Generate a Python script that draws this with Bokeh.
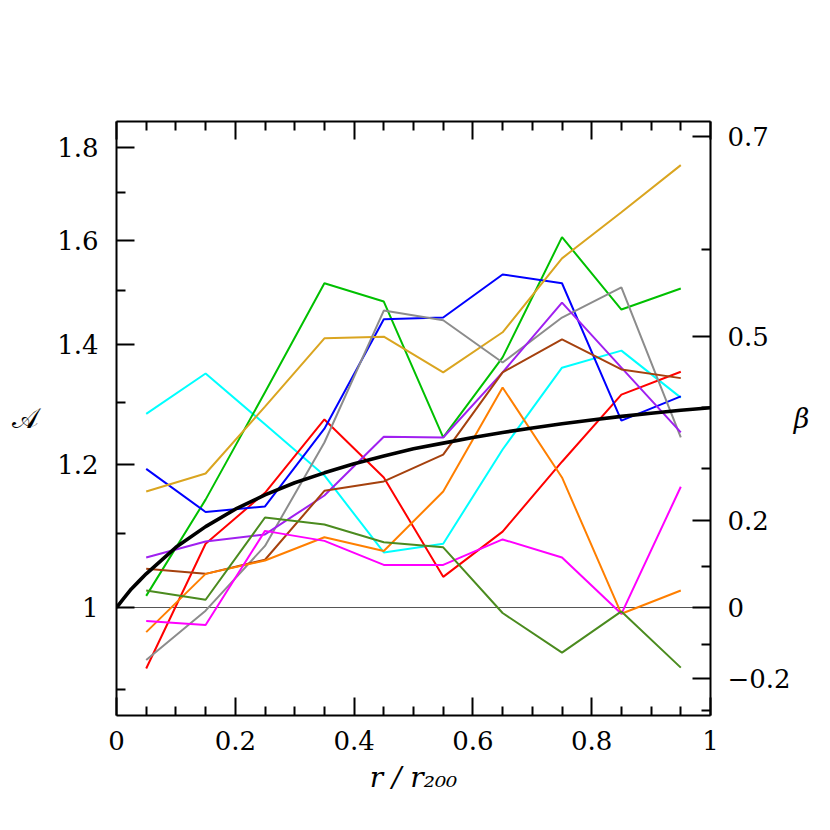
from bokeh.plotting import figure
from bokeh.models import (Range1d, LogAxis, LinearAxis, FixedTicker,
                          CustomJSTickFormatter, Span)
from bokeh.embed import file_html
from bokeh.resources import INLINE

# ---- data -------------------------------------------------------------
r_bins = [0.05, 0.15, 0.25, 0.35, 0.45, 0.55, 0.65, 0.75, 0.85, 0.95]

cyan_A    = [1.281, 1.349, 1.264, 1.184, 1.073, 1.085, 1.224, 1.359, 1.389, 1.308]
red_A     = [0.925, 1.085, 1.158, 1.272, 1.181, 1.040, 1.102, 1.205, 1.313, 1.352]
green_A   = [1.015, 1.148, 1.317, 1.514, 1.479, 1.243, 1.377, 1.606, 1.464, 1.504]
blue_A    = [1.194, 1.130, 1.138, 1.257, 1.446, 1.449, 1.531, 1.514, 1.270, 1.310]
gold_A    = [1.160, 1.187, 1.293, 1.411, 1.414, 1.351, 1.422, 1.563, 1.658, 1.761]
gray_A    = [0.935, 0.996, 1.082, 1.235, 1.462, 1.444, 1.368, 1.449, 1.506, 1.243]
purple_A  = [1.066, 1.088, 1.098, 1.154, 1.244, 1.243, 1.351, 1.477, 1.359, 1.251]
brown_A   = [1.051, 1.044, 1.063, 1.161, 1.175, 1.216, 1.351, 1.409, 1.356, 1.341]
orange_A  = [0.969, 1.044, 1.062, 1.094, 1.075, 1.160, 1.325, 1.181, 0.992, 1.022]
magenta_A = [0.983, 0.978, 1.103, 1.089, 1.056, 1.056, 1.091, 1.066, 0.992, 1.167]
olive_A   = [1.022, 1.010, 1.122, 1.112, 1.087, 1.080, 0.993, 0.944, 0.995, 0.926]

curve_r = [0.0, 0.0125, 0.025, 0.0375, 0.05, 0.10, 0.15, 0.20, 0.25, 0.30, 0.35,
           0.40, 0.45, 0.50, 0.55, 0.60, 0.65, 0.70, 0.75, 0.80, 0.85, 0.90,
           0.95, 1.00]
curve_A = [1.000, 1.012, 1.024, 1.034, 1.044, 1.080, 1.109, 1.134, 1.155, 1.173,
           1.188, 1.202, 1.214, 1.225, 1.234, 1.243, 1.251, 1.258, 1.265, 1.271,
           1.277, 1.282, 1.287, 1.291]

x_major = [0, 0.2, 0.4, 0.6, 0.8, 1.0]
x_minor = [0.05, 0.1, 0.15, 0.25, 0.3, 0.35, 0.45, 0.5, 0.55, 0.65, 0.7, 0.75,
           0.85, 0.9, 0.95]
A_major = [1.0, 1.2, 1.4, 1.6, 1.8]
A_minor = [0.9, 1.1, 1.3, 1.5, 1.7]
beta_major = [-0.2, 0.0, 0.2, 0.5, 0.7]
beta_minor = [-0.3, -0.1, 0.1, 0.3, 0.4, 0.6]

x_title = "r / r₂₀₀"
y_title = "𝒜"
y2_title = "β"

series = [
    (cyan_A, "#00ffff"), (red_A, "#ff0000"), (green_A, "#00c000"),
    (blue_A, "#0000ff"), (gold_A, "#daa520"), (gray_A, "#8c8c8c"),
    (purple_A, "#a020f0"), (brown_A, "#a5410e"), (orange_A, "#ff7f00"),
    (magenta_A, "#ff00ff"), (olive_A, "#4b8b1f"),
]

# ---- figure -----------------------------------------------------------
p = figure(width=822, height=822,
           x_range=Range1d(0, 1), y_range=Range1d(0.871, 1.862),
           y_axis_type="log", output_backend="svg", toolbar_location=None,
           min_border_left=116, min_border_right=112,
           min_border_top=121, min_border_bottom=107)
p.grid.visible = False
p.outline_line_color = None
p.background_fill_color = "white"

FONT = "DejaVu Serif"


def style(ax):
    ax.axis_line_width = 2
    ax.axis_line_color = "black"
    ax.major_tick_in = 18
    ax.major_tick_out = 0
    ax.minor_tick_in = 9
    ax.minor_tick_out = 0
    ax.major_tick_line_width = 2
    ax.minor_tick_line_width = 2
    ax.major_tick_line_color = "black"
    ax.minor_tick_line_color = "black"
    ax.major_label_text_font = FONT
    ax.major_label_text_font_size = "26px"
    ax.major_label_text_color = "black"
    ax.major_label_standoff = 15
    ax.axis_label_text_font = FONT
    ax.axis_label_text_color = "black"


num_code = "return tick.toFixed(1).replace(/\\.0$/, '');"

bottom = p.below[0]
bottom.ticker = FixedTicker(ticks=x_major, minor_ticks=x_minor)
bottom.formatter = CustomJSTickFormatter(code=num_code)
style(bottom)
bottom.axis_label = x_title
bottom.axis_label_text_font_style = "italic"
bottom.axis_label_text_font_size = "28px"
bottom.axis_label_standoff = 8

left = p.left[0]
left.ticker = FixedTicker(ticks=A_major, minor_ticks=A_minor)
left.formatter = CustomJSTickFormatter(code=num_code)
style(left)
left.major_label_standoff = 18
left.axis_label = y_title
left.axis_label_orientation = "horizontal"
left.axis_label_text_font_size = "28px"
left.axis_label_text_font_style = "normal"
left.axis_label_standoff = 16

top = LinearAxis(ticker=FixedTicker(ticks=x_major, minor_ticks=x_minor),
                 formatter=CustomJSTickFormatter(code="return '';"))
style(top)
p.add_layout(top, "above")

beta_to_A = lambda b: (1.0 - b) ** -0.5
right = LogAxis(ticker=FixedTicker(ticks=[beta_to_A(b) for b in beta_major],
                                   minor_ticks=[beta_to_A(b) for b in beta_minor]),
                formatter=CustomJSTickFormatter(code="""
const b = 1 - 1/(tick*tick);
const v = Math.round(b*10)/10;
if (Math.abs(v) < 1e-9) return "0";
return (v < 0 ? "\u2212" : "") + Math.abs(v).toFixed(1);
"""))
style(right)
right.major_label_standoff = 17
right.axis_label = y2_title
right.axis_label_orientation = "horizontal"
right.axis_label_text_font_style = "italic"
right.axis_label_text_font_size = "27px"
right.axis_label_standoff = 0
p.add_layout(right, "right")

# ---- marks ------------------------------------------------------------
p.add_layout(Span(location=1.0, dimension="width", line_color="#555555",
                  line_width=1.2, level="underlay"))

for vals, col in series:
    p.line(r_bins, vals, line_color=col, line_width=2.0)

p.line(curve_r, curve_A, line_color="black", line_width=3.6)

open("out.html", "w").write(file_html(p, INLINE))
